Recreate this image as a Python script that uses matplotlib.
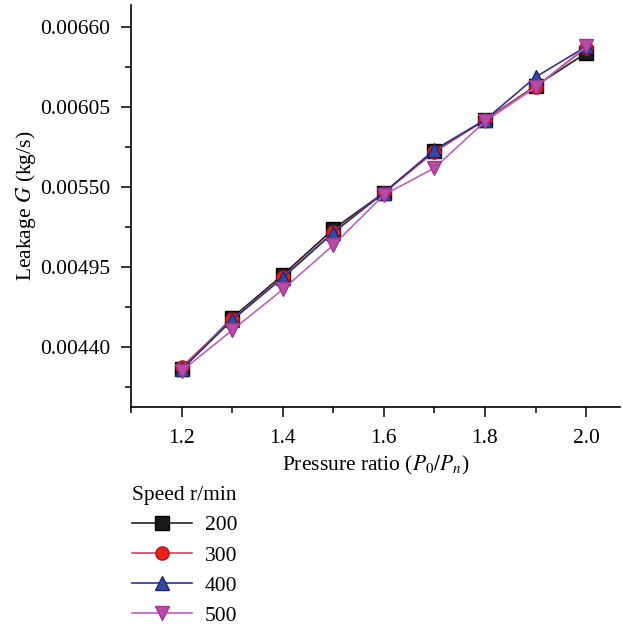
import matplotlib.pyplot as plt
from matplotlib.ticker import MultipleLocator, FormatStrFormatter

plt.rcParams['font.family'] = ['Liberation Serif', 'DejaVu Serif']
plt.rcParams['mathtext.fontset'] = 'stix'

# pressure ratio P0/Pn
ratio = [1.2, 1.3, 1.4, 1.5, 1.6, 1.7, 1.8, 1.9, 2.0]

# leakage G (kg/s) for each rotor speed
g_200 = [0.004245, 0.004600, 0.004895, 0.005210, 0.005460, 0.005750, 0.005960, 0.006195, 0.006420]
g_300 = [0.004262, 0.004590, 0.004880, 0.005190, 0.005460, 0.005740, 0.005960, 0.006190, 0.006455]
g_400 = [0.004245, 0.004585, 0.004875, 0.005185, 0.005460, 0.005755, 0.005960, 0.006255, 0.006465]
g_500 = [0.004235, 0.004515, 0.004795, 0.005100, 0.005445, 0.005630, 0.005950, 0.006185, 0.006465]

speeds = ['200', '300', '400', '500']

fs = 15.5

fig = plt.figure(figsize=(6.23, 6.29), dpi=100)
ax = fig.add_axes([0.2103, 0.353, 0.785, 0.639])

styles = [
    dict(color='#222222', marker='s', mfc='#1a1a1a', mec='#000000'),
    dict(color='#d84050', marker='o', mfc='#e82020', mec='#b01818'),
    dict(color='#2a3590', marker='^', mfc='#3848a8', mec='#1c2670'),
    dict(color='#c060c0', marker='v', mfc='#b84aa8', mec='#a03890'),
]
series = [g_200, g_300, g_400, g_500]

for g, lab, st in zip(series, speeds, styles):
    ax.plot(ratio, g, lw=1.2, ms=9.5, label=lab, **st)

ax.set_xlim(1.1, 2.067)
ax.set_ylim(0.0039875, 0.00675)

ax.xaxis.set_major_locator(MultipleLocator(0.2))
ax.xaxis.set_minor_locator(MultipleLocator(0.1))
ax.yaxis.set_major_locator(MultipleLocator(0.00055))
ax.yaxis.set_minor_locator(MultipleLocator(0.000275))
ax.xaxis.set_major_formatter(FormatStrFormatter('%.1f'))
ax.yaxis.set_major_formatter(FormatStrFormatter('%.5f'))

ax.spines['top'].set_visible(False)
ax.spines['right'].set_visible(False)
for s in ('left', 'bottom'):
    ax.spines[s].set_linewidth(1.2)
ax.tick_params(which='major', direction='out', length=7, width=1.1, labelsize=fs)
ax.tick_params(axis='y', which='major', pad=8)
ax.tick_params(axis='x', which='major', pad=9)
ax.tick_params(which='minor', direction='out', length=4, width=1.1)

ax.set_xlabel('Pressure ratio ($P_0/P_n$)', fontsize=fs, labelpad=4)
ax.set_ylabel('Leakage $G$ (kg/s)', fontsize=fs, labelpad=1.5)

leg = fig.legend(loc='upper left', bbox_to_anchor=(0.2115, 0.227), frameon=False,
                 title='Speed r/min', fontsize=fs, title_fontsize=fs,
                 handlelength=2.8, handletextpad=0.6, labelspacing=0.47,
                 alignment='left', borderaxespad=0, borderpad=0)

fig.savefig('out.png', dpi=100)
